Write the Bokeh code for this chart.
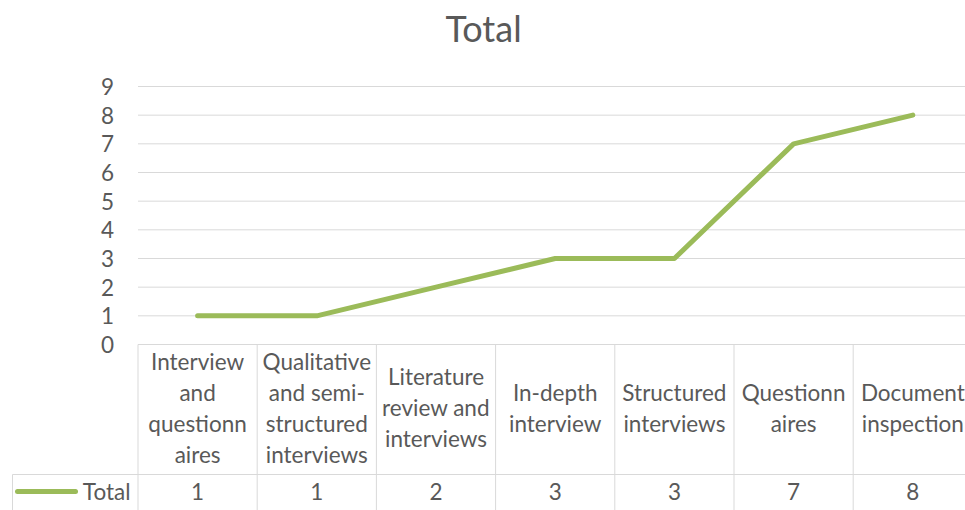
from bokeh.plotting import figure
from bokeh.models import Range1d, FixedTicker, ColumnDataSource
from bokeh.embed import file_html
from bokeh.resources import INLINE
from bokeh.core.properties import value

# ---------------- data ----------------
title_text = "Total"
series_name = "Total"
categories = [
    "Interview\nand\nquestionn\naires",
    "Qualitative\nand semi-\nstructured\ninterviews",
    "Literature\nreview and\ninterviews",
    "In-depth\ninterview",
    "Structured\ninterviews",
    "Questionn\naires",
    "Document\ninspection",
]
values = [1, 1, 2, 3, 3, 7, 8]
y_ticks = [0, 1, 2, 3, 4, 5, 6, 7, 8, 9]

# ---------------- layout (pixels) ----------------
W, H = 965, 510
FRAME_LEFT = 10
CAT_LEFT = 137.5
CAT_W = 119.2
ZERO_Y = 344
UNIT = 28.667
HEADER_H = 130
LABEL_MID = 63
VALUE_ROW_MID = 147
LINE_GAP = 31
LEG_LEFT = 12
KEY_X0, KEY_X1 = 17, 75
LEG_TEXT_RIGHT = 130
TITLE_X, TITLE_Y = 483, 27

FONT = "Lato"
TXT = "#595959"
GRID = "#D9D9D9"
GREEN = "#9BBB59"
FS = "22.5px"

def px_x(px):
    return (px - CAT_LEFT) / CAT_W

def px_y(py):
    return (ZERO_Y - py) / UNIT

x0, x1 = px_x(FRAME_LEFT), px_x(W)
y_top, y_bot = px_y(0), px_y(H)

p = figure(width=W, height=H, output_backend="svg", toolbar_location=None, title=None,
           x_range=Range1d(x0, x1), y_range=Range1d(y_bot, y_top),
           x_axis_location=None, min_border_left=FRAME_LEFT, min_border_right=0,
           min_border_top=0, min_border_bottom=0)
p.outline_line_color = None
p.xgrid.visible = False
p.ygrid.visible = False

ax = p.yaxis[0]
ax.ticker = FixedTicker(ticks=y_ticks)
ax.fixed_location = 0
ax.axis_line_color = None
ax.major_tick_line_color = None
ax.minor_tick_line_color = None
ax.major_tick_in = 0
ax.major_tick_out = 0
ax.major_label_standoff = 24
ax.major_label_text_font = FONT
ax.major_label_text_font_size = FS
ax.major_label_text_color = TXT

# chart title
p.text(x=[px_x(TITLE_X)], y=[px_y(TITLE_Y)], text=[title_text],
       text_font=value(FONT), text_font_size="36px", text_color=TXT,
       text_align="center", text_baseline="middle")

# gridlines (plot area only)
p.segment(x0=[0] * len(y_ticks), x1=[x1] * len(y_ticks), y0=y_ticks, y1=y_ticks,
          line_color=GRID, line_width=1)

# data table grid
n = len(categories)
xs = list(range(n + 1))
y_row = px_y(ZERO_Y + HEADER_H)
p.segment(x0=xs, x1=xs, y0=[0] * len(xs), y1=[y_bot] * len(xs), line_color=GRID, line_width=1)
p.segment(x0=[px_x(LEG_LEFT)], x1=[x1], y0=[y_row], y1=[y_row], line_color=GRID, line_width=1)
p.segment(x0=[px_x(LEG_LEFT)], x1=[px_x(LEG_LEFT)], y0=[y_row], y1=[y_bot],
          line_color=GRID, line_width=1)

# category labels
lx, ly, lt, loff = [], [], [], []
for i, c in enumerate(categories):
    lines = c.split("\n")
    k = len(lines)
    for j, t in enumerate(lines):
        lx.append(i + 0.5)
        ly.append(px_y(ZERO_Y + LABEL_MID))
        lt.append(t)
        loff.append((j - (k - 1) / 2) * LINE_GAP)
p.text(x="x", y="y", text="t", y_offset="o",
       source=ColumnDataSource(dict(x=lx, y=ly, t=lt, o=loff)),
       text_font=value(FONT), text_font_size=FS, text_color=TXT,
       text_align="center", text_baseline="middle")

# value row
cx = [i + 0.5 for i in range(n)]
y_val = px_y(ZERO_Y + VALUE_ROW_MID)
p.text(x=cx, y=[y_val] * n, text=[str(v) for v in values],
       text_font=value(FONT), text_font_size=FS, text_color=TXT,
       text_align="center", text_baseline="middle")

# legend key and series name
p.line(x=[px_x(KEY_X0), px_x(KEY_X1)], y=[y_val] * 2,
       line_color=GREEN, line_width=5, line_cap="round")
p.text(x=[px_x(LEG_TEXT_RIGHT)], y=[y_val], text=[series_name],
       text_font=value(FONT), text_font_size=FS, text_color=TXT,
       text_align="right", text_baseline="middle")

# series line
p.line(x=cx, y=values, line_color=GREEN, line_width=5, line_join="round", line_cap="round")

open("out.html", "w").write(file_html(p, INLINE))
